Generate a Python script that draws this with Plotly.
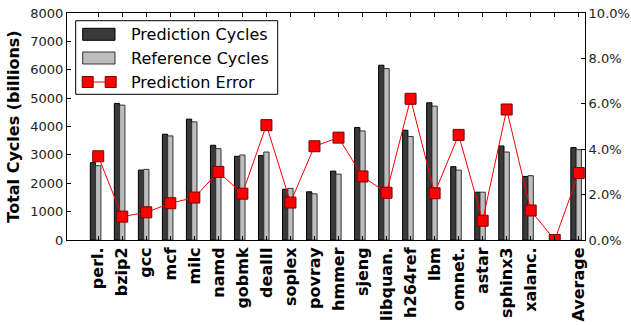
import plotly.graph_objects as go

categories = ["perl.", "bzip2", "gcc", "mcf", "milc", "namd", "gobmk", "dealII", "soplex",
              "povray", "hmmer", "sjeng", "libquan.", "h264ref", "lbm", "omnet.", "astar",
              "sphinx3", "xalanc.", "", "Average"]
prediction_cycles = [2726, 4814, 2464, 3728, 4259, 3338, 2949, 2974, 1790, 1699, 2428, 3965,
                     6160, 3869, 4836, 2584, 1685, 3313, 2241, None, 3257]
reference_cycles = [2620, 4754, 2489, 3668, 4164, 3221, 2995, 3101, 1820, 1628, 2322, 3844,
                    6040, 3646, 4719, 2464, 1685, 3101, 2266, None, 3186]
prediction_error = [0.0369, 0.0103, 0.0122, 0.0162, 0.0187, 0.0300, 0.0204, 0.0506, 0.0165,
                    0.0413, 0.0451, 0.0280, 0.0208, 0.0622, 0.0206, 0.0463, 0.0085, 0.0575,
                    0.0130, 0.0, 0.0295]
y_ticks = [0, 1000, 2000, 3000, 4000, 5000, 6000, 7000, 8000]
y2_ticks = [0, 0.02, 0.04, 0.06, 0.08, 0.10]

W, H = 631, 325
ML, MR, MT, MB = 67, 46, 13, 85
PW, PH = W - ML - MR, H - MT - MB

def px(x):
    return (x - ML) / PW

def py(y):
    return (H - MB - y) / PH

idx = list(range(len(categories)))
FONT = "DejaVu Sans"

fig = go.Figure()
fig.add_trace(go.Bar(x=idx, y=prediction_cycles, offset=-0.33, width=0.22,
                     marker=dict(color="#3a3a3a", line=dict(color="#000000", width=1)),
                     name="Prediction Cycles", showlegend=False))
fig.add_trace(go.Bar(x=idx, y=reference_cycles, offset=-0.11, width=0.22,
                     marker=dict(color="#bdbdbd", line=dict(color="#333333", width=1)),
                     name="Reference Cycles", showlegend=False))
fig.add_trace(go.Scatter(x=idx, y=prediction_error, yaxis="y2", mode="lines+markers",
                         line=dict(color="#ff0000", width=1),
                         marker=dict(symbol="square", size=11, color="#ff0000",
                                     line=dict(color="#7a0000", width=1)),
                         name="Prediction Error", showlegend=False))

fig.update_layout(
    width=W, height=H, margin=dict(l=ML, r=MR, t=MT, b=MB, autoexpand=False),
    paper_bgcolor="white", plot_bgcolor="white",
    barmode="overlay", showlegend=False,
    font=dict(family=FONT, color="#000000"),
    xaxis=dict(range=[-1.3, 20.26], tickmode="array", tickvals=idx, ticktext=categories,
               tickangle=-90, tickfont=dict(family=FONT, size=16, color="#000000",
                                            weight="bold"),
               ticks="inside", ticklen=4, tickcolor="#000000", mirror="ticks",
               showline=True, linecolor="#000000", linewidth=1, showgrid=False,
               zeroline=False, automargin=False),
    yaxis=dict(range=[0, 8000], tickvals=y_ticks, ticks="inside", ticklen=4,
               tickcolor="#000000", tickfont=dict(family=FONT, size=13, color="#222222"),
               showline=True, linecolor="#000000", linewidth=1, mirror=True,
               showgrid=False, zeroline=False, automargin=False,
               title=dict(text="Total Cycles (billions)", standoff=6,
                          font=dict(family=FONT, size=16, color="#000000", weight="bold"))),
    yaxis2=dict(range=[0, 0.10], tickvals=y2_ticks, tickformat=".1%", overlaying="y",
                side="right", ticks="inside", ticklen=4, tickcolor="#000000",
                tickfont=dict(family=FONT, size=13, color="#222222"),
                showline=True, linecolor="#000000", linewidth=1, showgrid=False,
                zeroline=False, automargin=False),
)

# custom legend (matplotlib style)
shapes = []
annotations = []
shapes.append(dict(type="rect", xref="paper", yref="paper", x0=px(75.7), x1=px(277.7),
                   y0=py(94.3), y1=py(20.7), line=dict(color="#000000", width=1),
                   fillcolor="white", layer="above"))
rows = [("Prediction Cycles", 34.3, "#3a3a3a", "#000000"),
        ("Reference Cycles", 58.0, "#bdbdbd", "#333333")]
for label, yc, fill, edge in rows:
    shapes.append(dict(type="rect", xref="paper", yref="paper", x0=px(82.7), x1=px(115),
                       y0=py(yc + 6), y1=py(yc - 6), line=dict(color=edge, width=1),
                       fillcolor=fill, layer="above"))
    annotations.append(dict(text=label, xref="paper", yref="paper", x=px(129), y=py(yc),
                            xanchor="left", yanchor="middle", showarrow=False,
                            font=dict(family=FONT, size=16, color="#000000")))
yc = 82.0
shapes.append(dict(type="line", xref="paper", yref="paper", x0=px(87.7), x1=px(110.7),
                   y0=py(yc), y1=py(yc), line=dict(color="#ff0000", width=1), layer="above"))
for cx in (87.7, 110.7):
    shapes.append(dict(type="rect", xref="paper", yref="paper", x0=px(cx - 5.5),
                       x1=px(cx + 5.5), y0=py(yc + 5.5), y1=py(yc - 5.5),
                       line=dict(color="#7a0000", width=1), fillcolor="#ff0000",
                       layer="above"))
annotations.append(dict(text="Prediction Error", xref="paper", yref="paper", x=px(129),
                        y=py(yc), xanchor="left", yanchor="middle", showarrow=False,
                        font=dict(family=FONT, size=16, color="#000000")))
fig.update_layout(shapes=shapes, annotations=annotations)

fig.write_html("out.html", config={"displayModeBar": False},
               post_script="document.body.style.margin='0';"
                           "document.body.style.overflow='hidden';")
